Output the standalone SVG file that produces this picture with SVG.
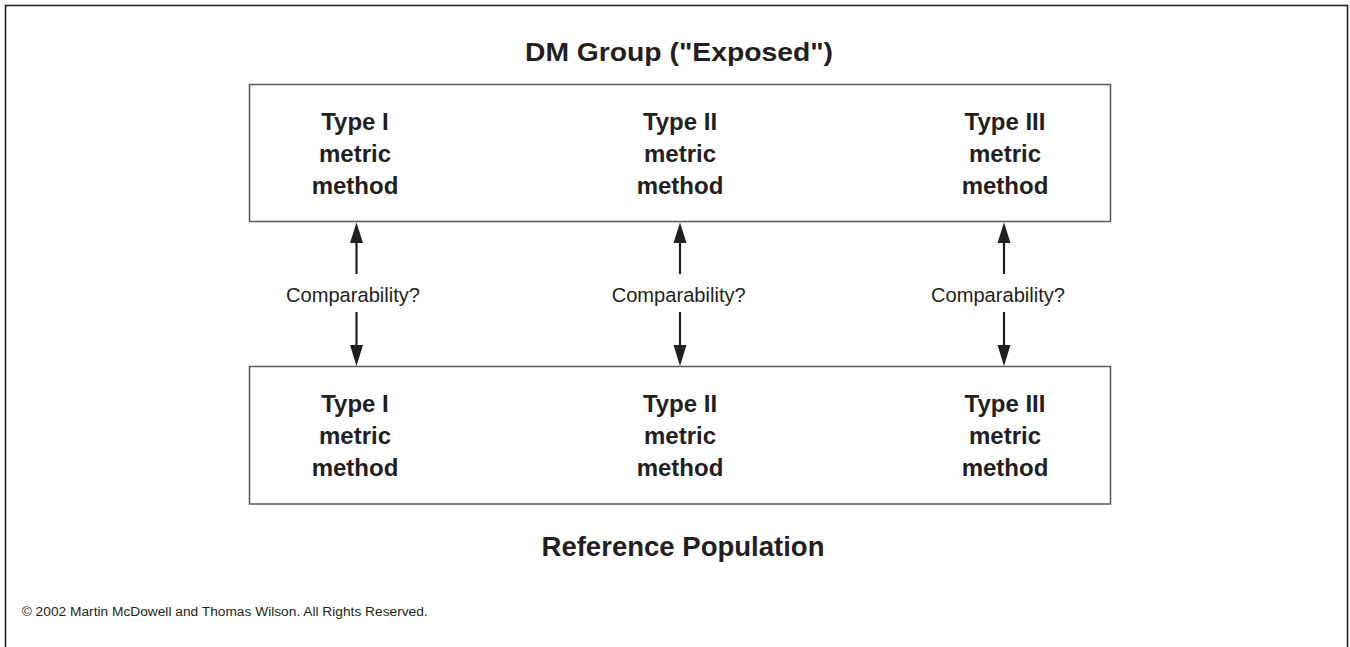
<svg xmlns="http://www.w3.org/2000/svg" width="1350" height="647" viewBox="0 0 1350 647">
<style>
.frame{fill:none;stroke:#231f20;stroke-width:1.6}
.box{fill:#fff;stroke:#58595b;stroke-width:1.5}
.bt{font-family:"Liberation Sans",Arial,sans-serif;font-weight:bold;font-size:24px;fill:#231f20;text-anchor:middle}
.hd{font-family:"Liberation Sans",Arial,sans-serif;font-weight:bold;fill:#231f20;text-anchor:middle}
.lbl{font-family:"Liberation Sans",Arial,sans-serif;font-size:20.5px;fill:#231f20;text-anchor:middle}
.cp{font-family:"Liberation Sans",Arial,sans-serif;font-size:12px;fill:#231f20}
.ln{stroke:#231f20;stroke-width:2.2;fill:none}
.ah{fill:#231f20}
</style>
<rect width="1350" height="647" fill="#fff"/>
<rect class="frame" x="5.5" y="5.5" width="1342" height="660"/>
<g id="title">
<text class="hd" x="679" y="60.5" font-size="25" textLength="308" lengthAdjust="spacingAndGlyphs">DM Group ("Exposed")</text>
</g>
<g id="dm-group">
<rect class="box" x="249.5" y="84.5" width="861" height="137"/>
<g id="dm-type1"><text class="bt" x="355" y="130">Type I</text><text class="bt" x="355" y="162">metric</text><text class="bt" x="355" y="194">method</text></g>
<g id="dm-type2"><text class="bt" x="680" y="130">Type II</text><text class="bt" x="680" y="162">metric</text><text class="bt" x="680" y="194">method</text></g>
<g id="dm-type3"><text class="bt" x="1005" y="130">Type III</text><text class="bt" x="1005" y="162">metric</text><text class="bt" x="1005" y="194">method</text></g>
</g>
<g id="ref-pop">
<rect class="box" x="249.5" y="366.5" width="861" height="137.5"/>
<g id="ref-type1"><text class="bt" x="355" y="412">Type I</text><text class="bt" x="355" y="444">metric</text><text class="bt" x="355" y="476">method</text></g>
<g id="ref-type2"><text class="bt" x="680" y="412">Type II</text><text class="bt" x="680" y="444">metric</text><text class="bt" x="680" y="476">method</text></g>
<g id="ref-type3"><text class="bt" x="1005" y="412">Type III</text><text class="bt" x="1005" y="444">metric</text><text class="bt" x="1005" y="476">method</text></g>
</g>
<g id="ref-title">
<text class="hd" x="683" y="556" font-size="27" textLength="283" lengthAdjust="spacingAndGlyphs">Reference Population</text>
</g>
<g id="connectors">
<g id="c1">
<line class="ln" x1="356.5" y1="242" x2="356.5" y2="274"/>
<polygon class="ah" points="356.5,222.5 350,243 363,243"/>
<line class="ln" x1="356.5" y1="312" x2="356.5" y2="346"/>
<polygon class="ah" points="356.5,366 350,345 363,345"/>
<text class="lbl" x="353" y="301.5" textLength="134" lengthAdjust="spacingAndGlyphs">Comparability?</text>
</g>
<g id="c2">
<line class="ln" x1="680" y1="242" x2="680" y2="274"/>
<polygon class="ah" points="680,222.5 673.5,243 686.5,243"/>
<line class="ln" x1="680" y1="312" x2="680" y2="346"/>
<polygon class="ah" points="680,366 673.5,345 686.5,345"/>
<text class="lbl" x="678.7" y="301.5" textLength="134" lengthAdjust="spacingAndGlyphs">Comparability?</text>
</g>
<g id="c3">
<line class="ln" x1="1004" y1="242" x2="1004" y2="274"/>
<polygon class="ah" points="1004,222.5 997.5,243 1010.5,243"/>
<line class="ln" x1="1004" y1="312" x2="1004" y2="346"/>
<polygon class="ah" points="1004,366 997.5,345 1010.5,345"/>
<text class="lbl" x="998" y="301.5" textLength="134" lengthAdjust="spacingAndGlyphs">Comparability?</text>
</g>
</g>
<g id="copyright">
<text class="cp" x="21.7" y="616" textLength="406" lengthAdjust="spacingAndGlyphs">© 2002 Martin McDowell and Thomas Wilson.  All Rights Reserved.</text>
</g>
</svg>
